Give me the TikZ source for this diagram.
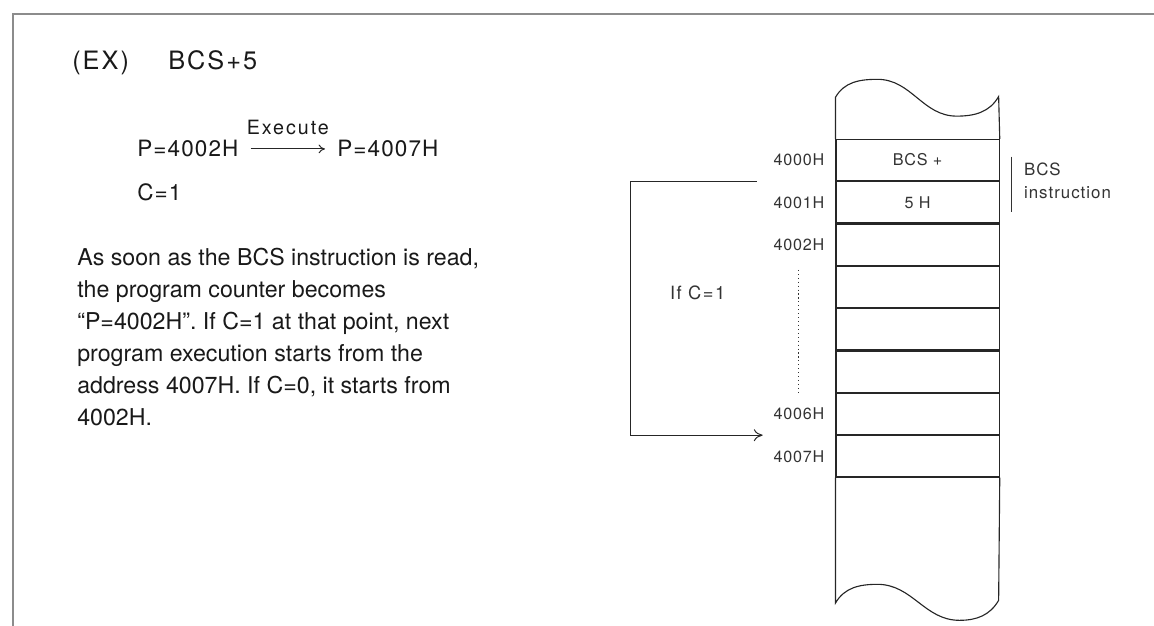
\documentclass[tikz,border=0pt]{standalone}
\usepackage{fontspec}
\setmainfont{TeX Gyre Heros}
\usetikzlibrary{arrows.meta, positioning, calc}

\begin{document}
\begin{tikzpicture}[
    frame/.style={draw=black!45, line width=1.4pt},
    big/.style={inner sep=0pt, anchor=base west, text=black!90, font=\fontsize{18}{21}\selectfont\addfontfeature{LetterSpace=8}},
    expr/.style={inner sep=0pt, anchor=base west, text=black!90, font=\fontsize{16}{19}\selectfont\addfontfeature{LetterSpace=5}},
    lbl/.style={inner sep=0pt, text=black!90, font=\fontsize{14}{16}\selectfont\addfontfeature{LetterSpace=10}},
    body/.style={inner sep=0pt, anchor=north west, align=left, text=black!90, font=\fontsize{16.5}{22.8}\selectfont},
    cell/.style={rectangle, draw=black!85, line width=0.8pt, minimum width=4.08cm, minimum height=1.03cm, inner sep=0pt, text=black!80, font=\fontsize{11.5}{14}\selectfont\addfontfeature{LetterSpace=5}},
    addr/.style={inner sep=0pt, text=black!80, font=\fontsize{11.5}{14}\selectfont\addfontfeature{LetterSpace=5}},
    note/.style={inner sep=0pt, align=left, text=black!80, font=\fontsize{12}{16.4}\selectfont\addfontfeature{LetterSpace=6}},
    wave/.style={draw=black!85, line width=0.8pt},
    conn/.style={draw=black!85, line width=0.7pt, -{To[length=2.2mm, width=3mm]}}
]
    \useasboundingbox (0, 0) rectangle (28.85, 15.65);

    % Page frame (top and left edges)
    \draw [frame] (0.325, 0) -- (0.325, 15.3) -- (28.85, 15.3);

    % Heading and register transfer
    \node (ex) at (1.8, 13.9) [big] {(EX)};
    \node (instr) at (4.2, 13.9) [big] {BCS+5};
    \node (pbefore) at (3.425, 11.725) [expr] {P=4002H};
    \node (pafter) at (8.425, 11.725) [expr] {P=4007H};
    \node (carry) at (3.425, 10.625) [expr] {C=1};
    \draw [conn, -{To[length=1.6mm, width=2.2mm]}, shorten <=0.3cm, shorten >=0.3cm] (pbefore.east) -- node[lbl, above=3.5mm] {Execute} (pafter.west);

    % Explanation
    \node (text) at (1.925, 9.45) [body] {As soon as the BCS instruction is read,\\the program counter becomes\\``P=4002H''. If C=1 at that point, next\\program execution starts from the\\address 4007H. If C=0, it starts from\\4002H.};

    % Memory column
    \node (c0) at (22.94, 11.6475) [cell] {BCS +};
    \node (c1) [cell, below=0cm of c0] {5 H};
    \node (c2) [cell, below=0cm of c1] {};
    \node (c3) [cell, below=0cm of c2] {};
    \node (c4) [cell, below=0cm of c3] {};
    \node (c5) [cell, below=0cm of c4] {};
    \node (c6) [cell, below=0cm of c5] {};
    \node (c7) [cell, below=0cm of c6] {};

    % Torn ends of the column
    \draw [wave] (c0.north west) -- ++(0, 1.04) to[out=60, in=180] ++(1.05, 0.45) to[out=0, in=180] ++(1.98, -0.92) to[out=0, in=240] ++(1.05, 0.49) -- (c0.north east);
    \draw [wave] (c7.south west) -- ++(0, -3.14) to[out=60, in=180] ++(1.05, 0.47) to[out=0, in=180] ++(2.05, -0.9) to[out=0, in=240] ++(0.98, 0.5) -- (c7.south east);

    % Addresses
    \node (a0) [addr, left=0.27cm of c0] {4000H};
    \node (a1) [addr, left=0.27cm of c1] {4001H};
    \node (a2) [addr, left=0.27cm of c2] {4002H};
    \node (a6) [addr, left=0.27cm of c6] {4006H};
    \node (a7) [addr, left=0.27cm of c7] {4007H};
    \draw [black!80, line width=0.8pt, dotted] ([yshift=-0.47cm]a2.south) -- ([yshift=0.35cm]a6.north);

    % BCS instruction bracket
    \draw [black!80, line width=0.6pt] ([xshift=0.29cm, yshift=-0.44cm]c0.north east) -- ([xshift=0.29cm, yshift=0.3cm]c1.south east);
    \node (bcsnote) [note, anchor=west] at ([xshift=0.6cm]c0.south east) {BCS\\instruction};

    % Branch when carry is set
    \node (cond) at (17.44, 8.325) [addr, font=\fontsize{13}{15}\selectfont\addfontfeature{LetterSpace=8}] {If C=1};
    \draw [conn] ([xshift=-1.97cm]c1.north west) -- ++(-3.15, 0) |- ([xshift=-1.82cm]c7.north west);

\end{tikzpicture}
\end{document}
